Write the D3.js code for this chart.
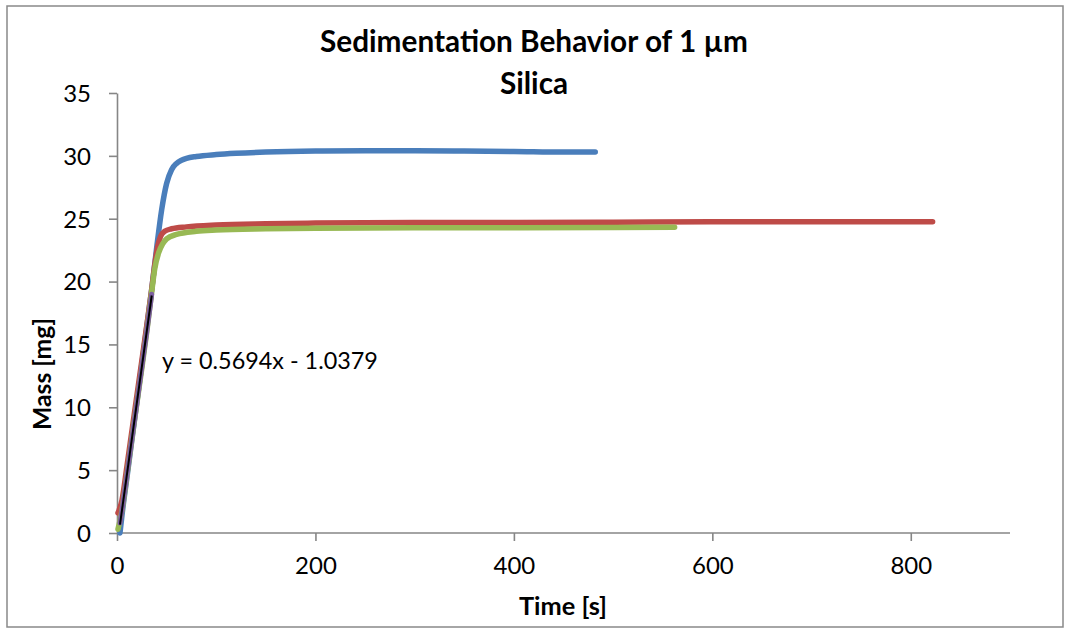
<!DOCTYPE html>
<html>
<head>
<meta charset="utf-8">
<script src="https://cdn.jsdelivr.net/npm/d3@7"></script>
<style>
  html, body { margin: 0; padding: 0; background: #fff; }
  svg text { font-family: Carlito, Calibri, Lato, "DejaVu Sans", sans-serif; fill: #000; }
</style>
</head>
<body>
<svg id="chart" width="1065" height="628"></svg>
<script>
// ---- data ----
const titleLines = ["Sedimentation Behavior of 1 µm", "Silica"];
const xAxisTitle = "Time [s]";
const yAxisTitle = "Mass [mg]";
const xTicks = [0, 200, 400, 600, 800];
const yTicks = [0, 5, 10, 15, 20, 25, 30, 35];

const timeBlue = [3, 5, 10, 15, 20, 25, 30, 35, 40, 45, 50, 55, 60, 65, 70, 80, 100, 120, 150, 200, 250, 300, 350, 400, 450, 482];
const massBlue = [0, 1.4, 4.4, 7.4, 10.4, 13.4, 16.4, 19.4, 22.7, 25.7, 27.8, 28.9, 29.4, 29.65, 29.8, 29.95, 30.1, 30.2, 30.3, 30.38, 30.4, 30.4, 30.38, 30.35, 30.3, 30.3];

const timeRed = [1, 5, 10, 15, 20, 25, 30, 35, 38, 41, 44, 48, 55, 70, 100, 150, 200, 300, 400, 500, 600, 700, 822];
const massRed = [1.6, 2.6, 5.3, 8.1, 10.9, 13.7, 16.5, 19.4, 21.3, 22.8, 23.6, 24.0, 24.2, 24.35, 24.5, 24.6, 24.65, 24.7, 24.7, 24.72, 24.75, 24.75, 24.75];

const timeGreen = [1, 5, 10, 15, 20, 25, 30, 35, 38, 42, 46, 50, 60, 80, 100, 150, 200, 300, 400, 500, 562];
const massGreen = [0.3, 1.8, 4.6, 7.5, 10.3, 13.1, 16.0, 19.2, 21.0, 22.3, 23.0, 23.4, 23.75, 24.0, 24.1, 24.2, 24.25, 24.28, 24.28, 24.3, 24.32];

const timePurple = [3, 5, 10, 15, 20, 25, 30, 35];
const massPurple = [0.8, 1.8, 4.6, 7.5, 10.3, 13.2, 16.0, 19.0];

const trendSlope = 0.5694;
const trendIntercept = -1.0379;
const trendRange = [3, 35];
const trendLabel = "y = 0.5694x - 1.0379";

// ---- layout ----
const svg = d3.select("#chart");
const W = 1065, H = 628;
const plot = { left: 117, right: 1010, top: 93, bottom: 533 };

svg.append("rect").attr("x", 7).attr("y", 6).attr("width", 1056).attr("height", 621)
  .attr("fill", "#fff").attr("stroke", "#898989").attr("stroke-width", 1.5);

const x = d3.scaleLinear().domain([0, 900]).range([plot.left, plot.right]);
const y = d3.scaleLinear().domain([0, 35]).range([plot.bottom, plot.top]);

const axisColor = "#868686";

// y axis
const gy = svg.append("g").attr("transform", `translate(${plot.left},0)`)
  .call(d3.axisLeft(y).tickValues(yTicks).tickSize(8).tickSizeOuter(0).tickPadding(18));
gy.select(".domain").attr("stroke", axisColor).attr("stroke-width", 1.6);
gy.selectAll(".tick line").attr("stroke", axisColor).attr("stroke-width", 1.6);
gy.selectAll(".tick text").attr("font-size", 24).attr("dy", "0.35em")
  .style("font-family", "Lato, sans-serif");

// x axis
const gx = svg.append("g").attr("transform", `translate(0,${plot.bottom})`)
  .call(d3.axisBottom(x).tickValues(xTicks).tickSize(8).tickSizeOuter(0).tickPadding(16));
gx.select(".domain").attr("stroke", axisColor).attr("stroke-width", 1.6)
  .attr("d", `M${plot.left},0H${plot.right}`);
gx.selectAll(".tick line").attr("stroke", axisColor).attr("stroke-width", 1.6);
gx.selectAll(".tick text").attr("font-size", 24).attr("dy", "0.72em")
  .style("font-family", "Lato, sans-serif");

// series
const line = d3.line().x(d => x(d[0])).y(d => y(d[1])).curve(d3.curveMonotoneX);
const zip = (ts, vs) => ts.map((t, i) => [t, vs[i]]);

const series = [
  { t: timeBlue, v: massBlue, color: "#4A7EBB", w: 5.5 },
  { t: timeRed, v: massRed, color: "#BE4B48", w: 5.5 },
  { t: timeGreen, v: massGreen, color: "#98B954", w: 5.5 },
  { t: timePurple, v: massPurple, color: "#7D60A0", w: 5 }
];
series.forEach(s => {
  svg.append("path").datum(zip(s.t, s.v)).attr("d", line)
    .attr("fill", "none").attr("stroke", s.color).attr("stroke-width", s.w)
    .attr("stroke-linecap", "round").attr("stroke-linejoin", "round");
});

// linear trendline
const trendPts = trendRange.map(t => [t, trendSlope * t + trendIntercept]);
svg.append("path").datum(trendPts).attr("d", d3.line().x(d => x(d[0])).y(d => y(d[1])))
  .attr("fill", "none").attr("stroke", "#000").attr("stroke-width", 2);

// text helpers: fit to measured width
function fit(sel, target) {
  const w = sel.node().getComputedTextLength();
  const fs = parseFloat(sel.attr("font-size"));
  sel.attr("font-size", fs * target / w);
}

const eq = svg.append("text").attr("x", 162).attr("y", 361).attr("dy", "0.35em")
  .attr("font-size", 20).style("font-family", "Lato, sans-serif").text(trendLabel);
fit(eq, 216);

// title
const t1 = svg.append("text").attr("x", 534).attr("y", 52).attr("text-anchor", "middle")
  .attr("font-size", 23).attr("font-weight", "bold").style("font-family", "Lato, sans-serif").text(titleLines[0]);
fit(t1, 428);
const t2 = svg.append("text").attr("x", 534).attr("y", 94).attr("text-anchor", "middle")
  .attr("font-size", 23).attr("font-weight", "bold").style("font-family", "Lato, sans-serif").text(titleLines[1]);
t2.attr("font-size", t1.attr("font-size"));

// axis titles
const xt = svg.append("text").attr("x", 563).attr("y", 615).attr("text-anchor", "middle")
  .attr("font-size", 22).attr("font-weight", "bold").style("font-family", "Lato, sans-serif").text(xAxisTitle);
fit(xt, 88);
const yt = svg.append("text").attr("transform", "translate(51,374) rotate(-90)").attr("text-anchor", "middle")
  .attr("font-size", 22).attr("font-weight", "bold").style("font-family", "Lato, sans-serif").text(yAxisTitle);
fit(yt, 112);
</script>
</body>
</html>
